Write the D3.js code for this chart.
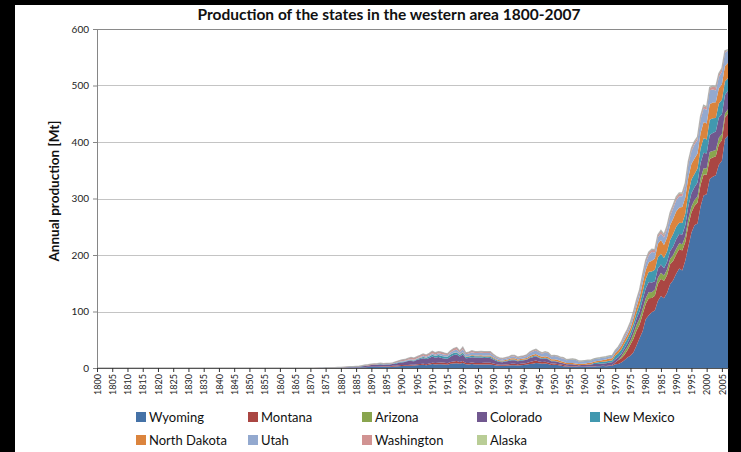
<!DOCTYPE html>
<html lang="en">

<head>
    <meta charset="UTF-8">
    <title>Production of the states in the western area 1800-2007</title>
    <script src="https://d3js.org/d3.v7.min.js"></script>
    <style>
        body,
        html {
            margin: 0;
            padding: 0;
            overflow: hidden;
            background: #000;
        }

        svg {
            display: block;
        }
    </style>
</head>

<body>
    <script>
        // Annual production in Mt, one value per year starting in dataStart (earlier years: no production)
        const firstYear = 1800;
        const lastYear = 2007;
        const dataStart = 1865;

        const states = ["Wyoming", "Montana", "Arizona", "Colorado", "New Mexico",
            "North Dakota", "Utah", "Washington", "Alaska"];

        const stateColors = ["#4572A7", "#AA4643", "#89A54E", "#71588F", "#4198AF",
            "#DB843D", "#93A9CF", "#D19392", "#B9CD96"];

        const wyoming = [
            0, 0, 0, 0.01, 0.04,
            0.05, 0.08, 0.15, 0.2, 0.25, 0.3, 0.3, 0.35, 0.4, 0.5,
            0.5, 0.6, 0.7, 0.7, 0.8, 0.9, 1.0, 1.3, 1.5, 1.7,
            1.9, 1.9, 1.9, 1.8, 2.0, 2.0, 2.1, 2.4, 2.7, 3.3,
            3.7, 4.0, 4.1, 4.1, 4.5, 5.0, 5.3, 5.6, 4.8, 5.6,
            6.9, 6.3, 6.7, 6.7, 6.3, 5.8, 7.5, 7.9, 8.5, 7.5,
            8.7, 6.5, 6.3, 6.9, 6.3, 6.1, 6.0, 6.3, 6.0, 6.1,
            5.5, 4.5, 4.1, 3.9, 4.1, 4.4, 5.0, 5.0, 4.3, 5.0,
            5.5, 6.0, 7.0, 7.6, 8.7, 8.2, 7.4, 8.1, 7.3, 5.5,
            5.6, 5.2, 4.3, 3.3, 2.6, 2.8, 2.6, 2.3, 1.8, 2.0,
            1.8, 2.4, 2.5, 2.4, 2.9, 3.0, 3.5, 3.3, 3.6, 4.2,
            6.5, 7.3, 9.9, 13.5, 18.8, 21.6, 27.9, 39.9, 52.9, 65.1,
            86.1, 93.2, 98.7, 101.8, 118.8, 127.6, 123.4, 132.9, 148.4, 155.2,
            166.9, 175.9, 172.5, 190.4, 214.9, 239.3, 252.5, 255.7, 285.7, 305.2,
            307.4, 334.4, 338.5, 341.3, 359.6, 366.7, 405.2, 411.4
        ];

        const montana = [
            0, 0, 0, 0, 0,
            0, 0, 0, 0, 0, 0, 0, 0, 0, 0,
            0, 0, 0, 0, 0.05, 0.07, 0.05, 0.01, 0.05, 0.33,
            0.47, 0.49, 0.51, 0.81, 0.93, 1.3, 1.1, 1.4, 1.3, 1.4,
            1.4, 1.3, 1.4, 1.7, 1.2, 1.5, 1.6, 1.8, 2.0, 2.4,
            2.6, 2.6, 2.8, 2.9, 2.9, 2.7, 3.2, 3.8, 4.1, 3.2,
            3.8, 2.5, 2.4, 2.8, 2.7, 2.7, 2.8, 2.9, 3.1, 3.1,
            2.3, 2.0, 1.8, 1.7, 2.3, 2.4, 2.7, 2.7, 2.5, 2.6,
            2.6, 2.8, 3.4, 4.2, 4.4, 3.4, 3.1, 2.9, 2.6, 2.3,
            2.5, 1.9, 1.8, 1.8, 1.4, 0.9, 0.9, 0.6, 0.5, 0.4,
            0.3, 0.3, 0.4, 0.6, 0.3, 0.4, 0.4, 0.4, 0.9, 0.9,
            3.1, 6.4, 7.4, 9.7, 12.8, 20.0, 23.8, 26.6, 24.1, 29.5,
            27.1, 30.4, 25.3, 26.2, 29.9, 30.2, 30.7, 31.2, 35.3, 34.2,
            34.2, 34.6, 35.3, 32.6, 37.7, 35.8, 34.4, 37.2, 38.8, 37.3,
            34.8, 35.5, 33.9, 33.6, 36.3, 36.6, 37.9, 39.4
        ];

        const arizona = [
            0, 0, 0, 0, 0,
            0, 0, 0, 0, 0, 0, 0, 0, 0, 0,
            0, 0, 0, 0, 0, 0, 0, 0, 0, 0,
            0, 0, 0, 0, 0, 0, 0, 0, 0, 0,
            0, 0, 0, 0, 0, 0, 0, 0, 0, 0,
            0, 0, 0, 0, 0, 0, 0, 0, 0, 0,
            0, 0, 0, 0, 0, 0, 0, 0, 0, 0,
            0, 0, 0, 0, 0, 0, 0, 0, 0, 0,
            0, 0, 0, 0, 0, 0, 0, 0, 0, 0,
            0, 0, 0, 0, 0, 0, 0, 0, 0, 0,
            0, 0, 0, 0, 0, 0, 0, 0, 0, 0,
            0.1, 0.3, 2.9, 5.8, 5.8, 6.3, 9.2, 10.1, 10.7, 10.3,
            10.2, 10.7, 10.2, 10.3, 11.1, 10.7, 9.4, 10.3, 9.3, 10.4,
            9.9, 10.3, 11.2, 10.2, 11.4, 10.8, 10.6, 10.6, 11.5, 11.2,
            10.9, 12.2, 11.6, 11.0, 11.5, 11.0, 7.4, 7.3
        ];

        const colorado = [
            0, 0.01, 0.01, 0.01, 0.01,
            0.01, 0.02, 0.06, 0.06, 0.08, 0.09, 0.09, 0.15, 0.18, 0.29,
            0.42, 0.64, 0.96, 1.1, 1.0, 1.2, 1.2, 1.6, 2.0, 2.2,
            2.8, 3.2, 3.2, 3.7, 2.7, 2.8, 2.8, 3.1, 3.7, 4.4,
            4.7, 5.2, 6.7, 6.7, 6.1, 8.0, 9.2, 9.8, 9.1, 9.7,
            10.9, 9.3, 10.0, 8.3, 7.4, 7.8, 9.5, 11.3, 11.2, 9.7,
            11.3, 8.3, 9.1, 9.3, 9.4, 9.4, 9.6, 8.7, 9.0, 8.7,
            7.4, 6.1, 4.9, 4.7, 5.0, 5.4, 6.1, 5.9, 5.1, 5.4,
            5.5, 5.6, 7.2, 7.4, 7.6, 6.3, 5.5, 5.7, 5.4, 4.0,
            3.9, 3.8, 3.2, 3.1, 2.5, 3.0, 3.0, 2.9, 2.6, 2.7,
            3.0, 3.4, 3.2, 4.0, 4.0, 4.1, 4.1, 4.5, 5.1, 5.0,
            5.4, 4.9, 5.0, 5.6, 6.2, 7.4, 8.5, 10.8, 12.7, 16.4,
            17.1, 18.0, 17.0, 15.4, 16.5, 14.9, 13.2, 13.2, 13.7, 15.3,
            16.9, 16.2, 17.3, 19.9, 22.9, 23.3, 22.6, 24.9, 26.8, 27.1,
            26.4, 30.3, 31.8, 32.5, 36.1, 34.9, 32.9, 33.0
        ];

        const newMexico = [
            0, 0, 0, 0, 0,
            0, 0, 0, 0, 0, 0, 0, 0, 0, 0,
            0.1, 0.15, 0.15, 0.2, 0.2, 0.28, 0.25, 0.45, 0.55, 0.4,
            0.34, 0.4, 0.6, 0.6, 0.54, 0.65, 0.6, 0.55, 1.0, 1.0,
            1.2, 1.0, 0.9, 1.4, 1.3, 1.5, 1.8, 2.4, 2.4, 2.5,
            3.1, 3.1, 3.3, 3.3, 3.6, 3.4, 3.7, 3.6, 3.6, 2.7,
            3.4, 2.3, 2.5, 2.8, 2.6, 2.5, 2.6, 2.4, 2.3, 2.4,
            1.7, 1.4, 1.3, 1.1, 1.1, 1.3, 1.4, 1.6, 1.1, 1.0,
            1.0, 1.3, 1.6, 1.8, 1.6, 1.3, 1.2, 1.3, 1.4, 1.0,
            0.8, 0.7, 0.5, 0.4, 0.2, 0.2, 0.2, 0.1, 0.1, 0.1,
            0.3, 0.3, 0.6, 1.8, 2.7, 2.9, 3.0, 3.3, 3.4, 3.3,
            6.7, 7.3, 7.4, 8.3, 8.5, 8.0, 8.9, 10.2, 12.2, 14.1,
            17.1, 18.0, 19.6, 20.0, 19.9, 18.8, 17.9, 18.6, 19.7, 22.2,
            22.1, 19.9, 20.2, 20.3, 23.2, 24.5, 23.4, 24.5, 25.7, 26.5,
            24.8, 26.8, 26.2, 23.9, 24.7, 25.8, 23.5, 22.2
        ];

        const northDakota = [
            0, 0, 0, 0, 0,
            0, 0, 0, 0, 0, 0, 0, 0, 0, 0,
            0, 0, 0, 0, 0.01, 0.02, 0.02, 0.02, 0.03, 0.03,
            0.03, 0.03, 0.04, 0.05, 0.04, 0.05, 0.07, 0.07, 0.08, 0.1,
            0.12, 0.15, 0.2, 0.22, 0.24, 0.25, 0.28, 0.32, 0.29, 0.36,
            0.36, 0.45, 0.45, 0.45, 0.29, 0.45, 0.5, 0.55, 0.65, 0.6,
            0.75, 0.9, 0.95, 1.0, 1.1, 1.3, 1.4, 1.5, 1.6, 1.7,
            1.5, 1.6, 1.6, 1.6, 1.7, 2.0, 2.2, 1.9, 1.9, 2.0,
            2.1, 2.0, 2.1, 2.3, 2.4, 2.4, 2.6, 2.8, 2.8, 2.6,
            2.9, 2.9, 2.7, 2.5, 2.2, 2.1, 2.2, 2.1, 2.2, 2.2,
            2.3, 2.4, 2.4, 2.4, 2.4, 2.6, 3.0, 3.6, 3.9, 4.0,
            4.3, 5.3, 6.3, 6.5, 6.8, 7.7, 10.1, 11.0, 13.2, 14.9,
            15.9, 17.0, 18.9, 20.2, 23.8, 24.3, 23.2, 24.8, 26.2, 26.9,
            27.1, 27.0, 28.4, 29.0, 28.0, 27.3, 27.4, 26.8, 27.1, 28.1,
            28.4, 27.7, 27.9, 27.9, 27.1, 27.2, 27.6, 26.8
        ];

        const utah = [
            0, 0, 0, 0, 0,
            0, 0.01, 0.01, 0.02, 0.02, 0.03, 0.04, 0.05, 0.05, 0.07,
            0.09, 0.1, 0.12, 0.14, 0.17, 0.19, 0.18, 0.2, 0.23, 0.22,
            0.29, 0.33, 0.33, 0.37, 0.38, 0.43, 0.38, 0.4, 0.5, 0.7,
            1.0, 1.1, 1.3, 1.5, 1.3, 1.2, 1.3, 1.7, 1.7, 2.0,
            2.3, 2.3, 2.8, 3.0, 2.9, 2.8, 3.2, 3.7, 4.6, 3.8,
            5.4, 3.7, 4.2, 5.2, 4.4, 4.4, 4.5, 4.6, 4.5, 4.7,
            3.9, 2.9, 2.6, 2.4, 2.5, 2.6, 3.3, 3.4, 2.7, 2.9,
            3.3, 3.8, 5.1, 5.9, 6.4, 6.1, 5.6, 6.6, 6.4, 5.0,
            5.5, 6.0, 5.4, 5.8, 4.9, 5.4, 6.3, 6.2, 4.5, 4.2,
            4.5, 3.9, 4.0, 4.2, 4.4, 4.4, 4.5, 4.0, 3.9, 4.1,
            4.3, 4.2, 4.4, 4.9, 5.4, 6.3, 7.1, 7.6, 8.4, 10.7,
            12.0, 12.5, 15.4, 10.7, 11.2, 11.6, 13.0, 15.0, 16.5, 18.6,
            20.0, 19.9, 19.0, 19.7, 22.1, 22.8, 24.6, 23.9, 24.1, 24.0,
            24.4, 24.5, 22.9, 21.0, 19.7, 22.2, 23.6, 22.0
        ];

        const washington = [
            0, 0, 0, 0, 0,
            0.01, 0.02, 0.03, 0.04, 0.04, 0.09, 0.1, 0.13, 0.12, 0.13,
            0.14, 0.17, 0.16, 0.21, 0.2, 0.34, 0.4, 0.6, 0.95, 1.0,
            1.1, 1.0, 1.1, 1.1, 1.0, 1.0, 1.1, 1.1, 1.6, 1.8,
            2.2, 2.3, 2.4, 3.0, 2.9, 2.6, 2.9, 3.3, 2.7, 3.3,
            3.5, 3.0, 3.0, 3.5, 3.0, 2.2, 3.0, 3.6, 3.7, 2.7,
            3.3, 2.3, 2.5, 2.6, 2.4, 2.4, 2.5, 2.5, 2.3, 2.3,
            1.8, 1.6, 1.5, 1.4, 1.4, 1.3, 1.6, 1.6, 1.4, 1.4,
            1.5, 1.6, 1.8, 1.8, 1.8, 1.5, 1.1, 1.1, 1.0, 0.9,
            0.8, 0.7, 0.6, 0.6, 0.5, 0.5, 0.4, 0.4, 0.2, 0.2,
            0.2, 0.2, 0.1, 0.1, 0.1, 0.05, 0.05, 0.05, 0.04, 0.04,
            0.03, 1.1, 2.3, 3.5, 3.5, 3.4, 3.7, 4.2, 3.8, 3.8,
            4.6, 4.4, 4.2, 4.2, 4.0, 4.0, 4.2, 4.2, 4.4, 4.5,
            4.4, 4.6, 4.5, 4.2, 4.4, 3.8, 4.1, 4.1, 4.8, 4.4,
            3.9, 4.2, 5.3, 5.6, 5.2, 4.8, 2.4, 0
        ];

        const alaska = [
            0, 0, 0, 0, 0,
            0, 0, 0, 0, 0, 0, 0, 0, 0, 0,
            0, 0, 0, 0, 0, 0, 0, 0, 0, 0,
            0, 0, 0, 0, 0, 0, 0, 0, 0, 0,
            0, 0, 0, 0, 0, 0, 0, 0, 0, 0,
            0, 0, 0, 0, 0, 0.01, 0.01, 0.05, 0.07, 0.05,
            0.06, 0.07, 0.07, 0.11, 0.09, 0.09, 0.08, 0.09, 0.1, 0.09,
            0.11, 0.09, 0.09, 0.09, 0.1, 0.11, 0.12, 0.12, 0.14, 0.15,
            0.15, 0.22, 0.24, 0.26, 0.3, 0.27, 0.33, 0.33, 0.36, 0.4,
            0.37, 0.4, 0.6, 0.7, 0.6, 0.6, 0.7, 0.8, 0.7, 0.6,
            0.7, 0.8, 0.8, 0.8, 0.8, 0.8, 0.8, 0.8, 0.8, 0.6,
            0.6, 0.6, 0.6, 0.6, 0.6, 0.7, 0.6, 0.6, 0.7, 0.7,
            0.7, 0.7, 0.8, 0.8, 0.8, 1.4, 1.4, 1.4, 1.5, 1.3,
            1.4, 1.4, 1.4, 1.4, 1.4, 1.5, 1.5, 1.4, 1.2, 1.5,
            1.4, 1.4, 1.0, 1.0, 1.2, 1.3, 1.2, 1.2
        ];

        const yTicks = [0, 100, 200, 300, 400, 500, 600];
        const xTicks = d3.range(1800, 2006, 5); // labelled every 5 years

        const seriesByState = {
            "Wyoming": wyoming, "Montana": montana, "Arizona": arizona,
            "Colorado": colorado, "New Mexico": newMexico, "North Dakota": northDakota,
            "Utah": utah, "Washington": washington, "Alaska": alaska
        };

        const width = 741;
        const height = 452;
        const plot = { left: 97, right: 728, top: 29, bottom: 368 };
        const font = "Lato, 'Open Sans', sans-serif";

        const svg = d3.select("body")
            .append("svg")
            .attr("width", width)
            .attr("height", height);

        // black frame around the white chart sheet
        svg.append("rect").attr("width", width).attr("height", height).attr("fill", "#000");
        svg.append("rect")
            .attr("x", 15).attr("y", 5)
            .attr("width", 713).attr("height", height - 5)
            .attr("fill", "#fff");

        const x = d3.scaleLinear().domain([firstYear, lastYear]).range([plot.left, plot.right]);
        const y = d3.scaleLinear().domain([0, 600]).range([plot.bottom, plot.top]);

        // table for d3.stack
        const table = d3.range(firstYear, lastYear + 1).map(yr => {
            const row = { year: yr };
            states.forEach(s => {
                row[s] = yr < dataStart ? 0 : seriesByState[s][yr - dataStart];
            });
            return row;
        });
        const stacked = d3.stack().keys(states)(table);

        // gridlines
        svg.append("g")
            .selectAll("line")
            .data(yTicks.filter(d => d > 0))
            .enter()
            .append("line")
            .attr("x1", plot.left)
            .attr("x2", plot.right - 1)
            .attr("y1", d => Math.round(y(d)) + 0.5)
            .attr("y2", d => Math.round(y(d)) + 0.5)
            .attr("stroke", d => d === 600 ? "#8a8a8a" : "#c4c4c4")
            .attr("stroke-width", 1.2);

        // stacked areas
        const area = d3.area()
            .x(d => x(d.data.year))
            .y0(d => y(d[0]))
            .y1(d => y(d[1]));

        svg.append("g")
            .selectAll("path")
            .data(stacked)
            .enter()
            .append("path")
            .attr("fill", (d, i) => stateColors[i])
            .attr("d", area);

        // soft grey outline along the top of the stack
        const topLine = d3.line()
            .x(d => x(d.data.year))
            .y(d => y(d[1]));
        svg.append("path")
            .datum(stacked[stacked.length - 1])
            .attr("fill", "none")
            .attr("stroke", "#a6a6a6")
            .attr("stroke-opacity", 0.8)
            .attr("stroke-width", 1.3)
            .attr("d", topLine);

        // y axis
        const yAxis = svg.append("g")
            .attr("transform", `translate(${plot.left},0)`)
            .call(d3.axisLeft(y).tickValues(yTicks).tickSize(4).tickSizeOuter(0).tickPadding(4));
        yAxis.select(".domain").attr("stroke", "#868686");
        yAxis.selectAll(".tick line").attr("stroke", "#868686");
        yAxis.selectAll("text")
            .attr("font-family", font)
            .attr("font-size", 10)
            .attr("fill", "#222");

        // x axis with vertical labels
        const xAxis = svg.append("g")
            .attr("transform", `translate(0,${plot.bottom})`)
            .call(d3.axisBottom(x).tickValues(xTicks).tickSize(4).tickSizeOuter(0).tickFormat(d3.format("d")));
        xAxis.select(".domain").attr("stroke", "#555");
        xAxis.selectAll(".tick line").attr("stroke", "#333");
        xAxis.selectAll("text")
            .attr("transform", "rotate(-90)")
            .attr("x", -6)
            .attr("y", 0)
            .attr("dy", "0.35em")
            .attr("text-anchor", "end")
            .attr("font-family", font)
            .attr("font-size", 9)
            .attr("fill", "#222");

        // title
        svg.append("text")
            .attr("x", 389)
            .attr("y", 20)
            .attr("text-anchor", "middle")
            .attr("font-family", font)
            .attr("font-weight", "bold")
            .attr("font-size", 15.5)
            .attr("fill", "#111")
            .text("Production of the states in the western area 1800-2007");

        // y axis title
        svg.append("text")
            .attr("transform", "translate(59,191) rotate(-90)")
            .attr("text-anchor", "middle")
            .attr("font-family", font)
            .attr("font-weight", "bold")
            .attr("font-size", 13.5)
            .attr("fill", "#111")
            .text("Annual production [Mt]");

        // legend, 5 columns x 2 rows
        const legendCols = [136, 248, 362, 477, 590];
        const legendRows = [417, 440];
        const legend = svg.append("g")
            .selectAll("g")
            .data(states)
            .enter()
            .append("g")
            .attr("transform", (d, i) => `translate(${legendCols[i % 5]},${legendRows[Math.floor(i / 5)]})`);

        legend.append("rect")
            .attr("x", 0)
            .attr("y", -5)
            .attr("width", 10)
            .attr("height", 10)
            .attr("fill", (d, i) => stateColors[i]);

        legend.append("text")
            .attr("x", 13)
            .attr("dy", "0.35em")
            .attr("font-family", font)
            .attr("font-size", 13)
            .attr("fill", "#111")
            .text(d => d);
    </script>
</body>

</html>
